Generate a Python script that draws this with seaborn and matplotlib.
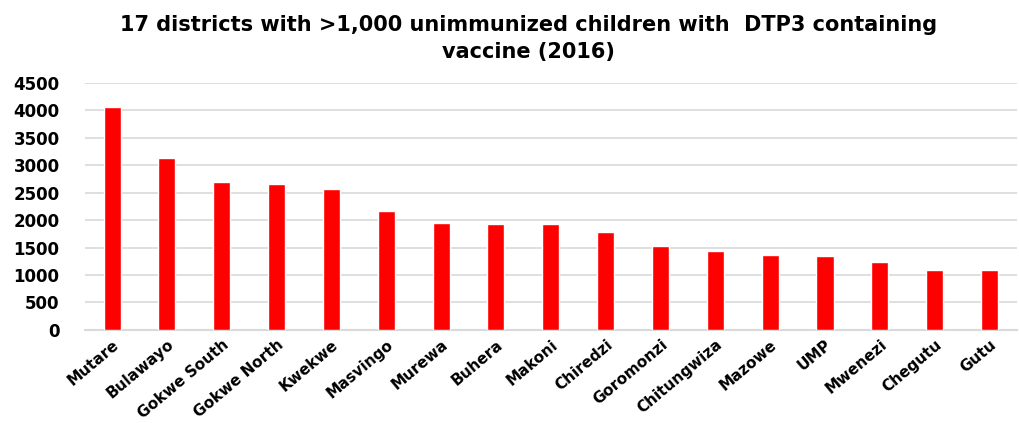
import pandas as pd
import seaborn as sns
from matplotlib import pyplot as plt

# districts and unimmunized counts
districts = ["Mutare", "Bulawayo", "Gokwe South", "Gokwe North", "Kwekwe", "Masvingo",
             "Murewa", "Buhera", "Makoni", "Chiredzi", "Goromonzi", "Chitungwiza",
             "Mazowe", "UMP", "Mwenezi", "Chegutu", "Gutu"]
unimmunized = [4060, 3130, 2700, 2650, 2560, 2170, 1940, 1935, 1930, 1785,
               1535, 1440, 1370, 1340, 1235, 1100, 1085]

df = pd.DataFrame({"district": districts, "children": unimmunized})

sns.set_theme(style="white")
plt.rcParams['font.family'] = ['DejaVu Sans']

fig, ax = plt.subplots(figsize=(10.2, 4.23), dpi=100)
fig.subplots_adjust(left=0.083, right=0.997, bottom=0.22, top=0.804)

sns.barplot(data=df, x="district", y="children", color="#ff0000", saturation=1,
            width=0.31, ax=ax, zorder=3)

ax.set_ylim(0, 4500)
ax.set_yticks(range(0, 4501, 500))
ax.set_xlim(-0.5, len(districts) - 0.5)
ax.grid(axis="y", color="#d9d9d9", linewidth=1.2, zorder=0)
for s in ["top", "right", "left"]:
    ax.spines[s].set_visible(False)
ax.spines["bottom"].set_color("#d9d9d9")
ax.spines["bottom"].set_linewidth(1.5)
ax.set_xlabel("")
ax.set_ylabel("")
ax.tick_params(axis="y", length=0, pad=18, labelcolor="black")
ax.tick_params(axis="x", length=0, pad=5, labelcolor="black")

plt.setp(ax.get_yticklabels(), fontsize=12, fontweight="bold")
plt.setp(ax.get_xticklabels(), fontsize=11, fontweight="bold", rotation=40,
         ha="right", rotation_mode="anchor")

fig.text(0.518, 0.965, "17 districts with >1,000 unimmunized children with  DTP3 containing\nvaccine (2016)",
         ha="center", va="top", fontsize=15, fontweight="bold", linespacing=1.45,
         color="black")

plt.savefig("out.png", dpi=100)
